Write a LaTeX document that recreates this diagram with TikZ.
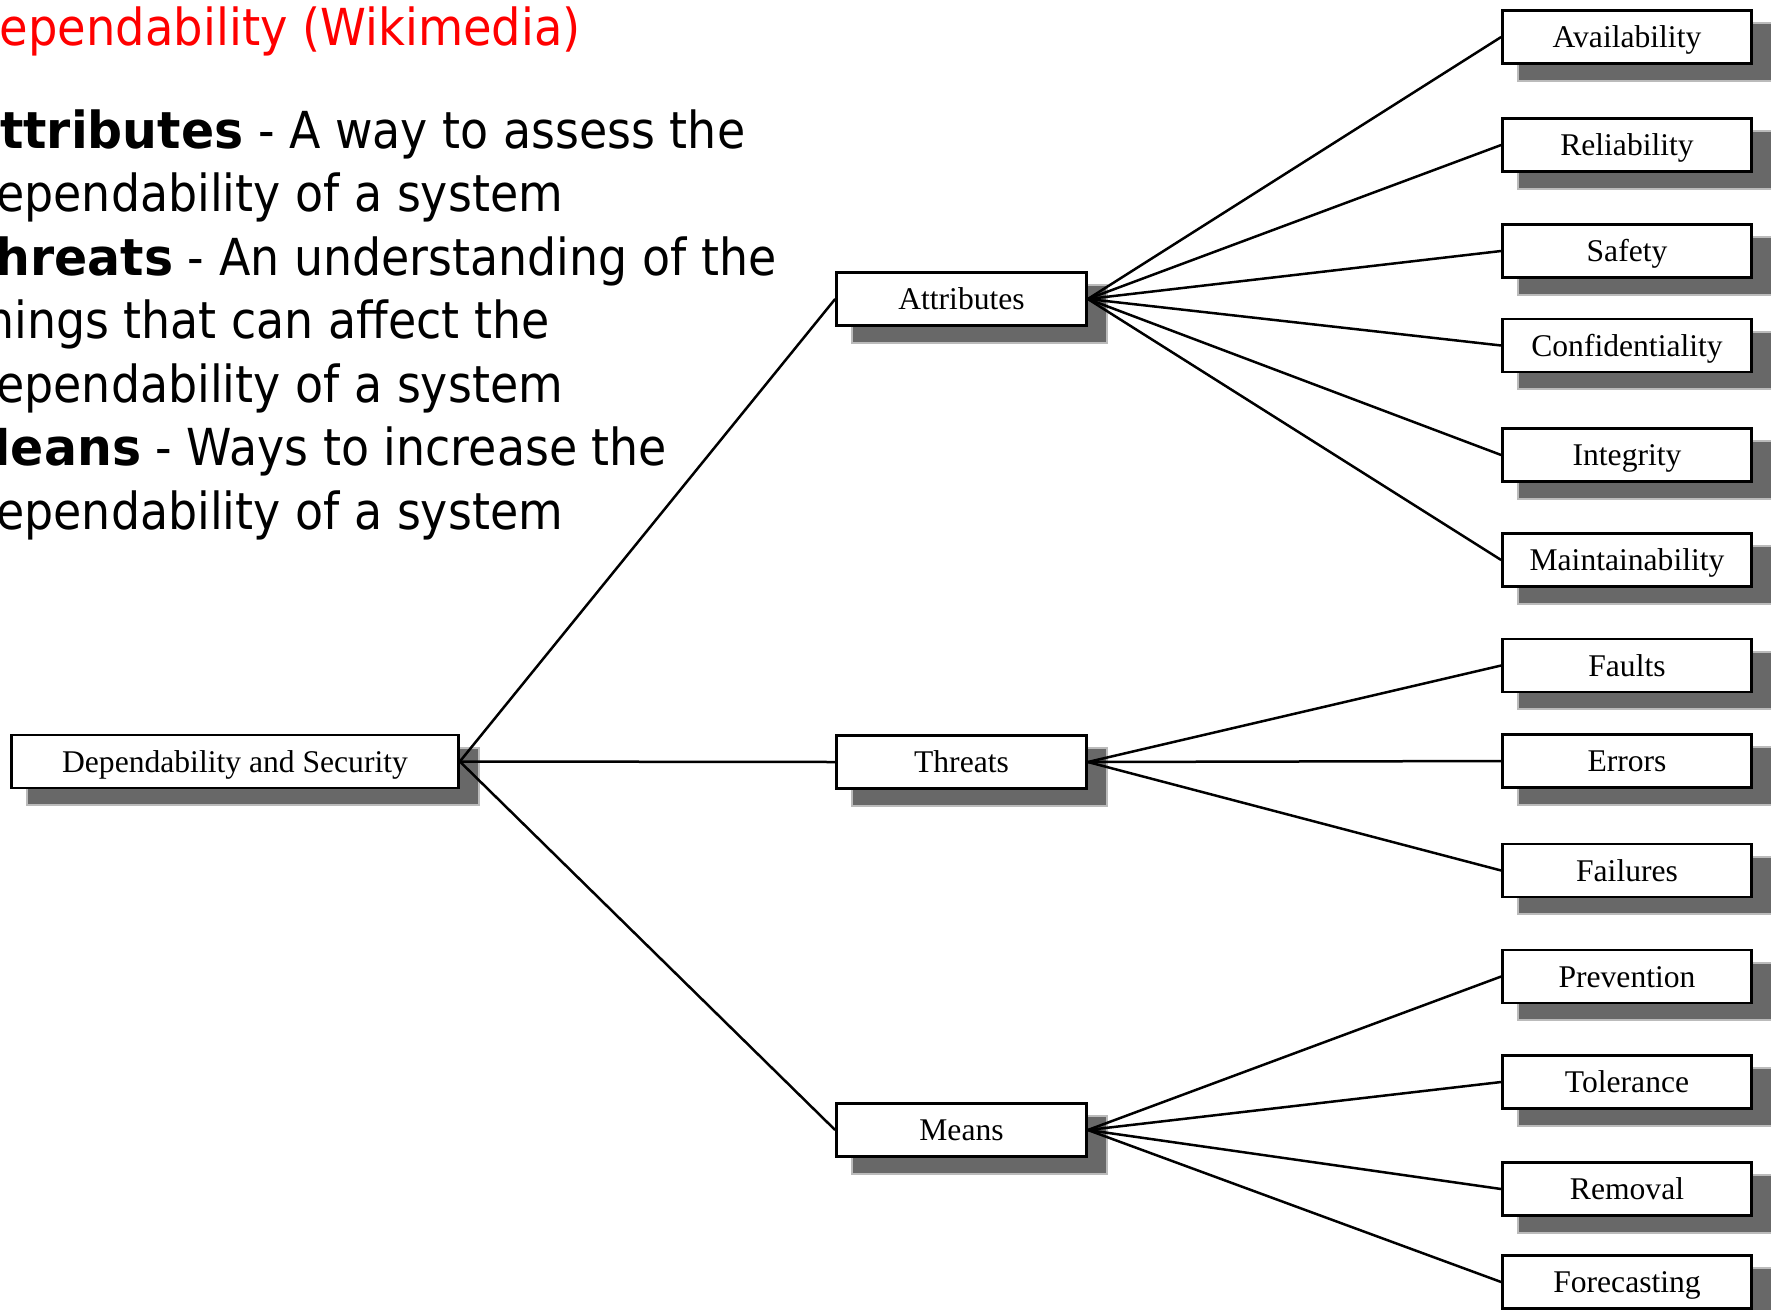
\documentclass[tikz,border=0pt]{standalone}
\usepackage{fontspec}
\setmainfont{Liberation Serif}
\newfontfamily\tah[FakeStretch=0.90]{DejaVu Sans}
\newfontfamily\tahbold[FakeStretch=0.96]{DejaVu Sans Bold}
\newfontfamily\tahhead[FakeStretch=0.91]{DejaVu Sans}

\pgfdeclarelayer{shade}
\pgfdeclarelayer{wires}
\pgfsetlayers{shade,wires,main}

\definecolor{shadowgray}{RGB}{104,104,104}
\definecolor{slidered}{RGB}{255,0,0}

\tikzset{
  box/.style={draw=black, line width=2.7pt, fill=white, inner sep=0pt,
    minimum height=53pt, text height=21pt, text depth=0pt,
    font=\fontsize{31.6}{36}\selectfont},
  leaf/.style={box, minimum width=249pt},
  mid/.style={box, minimum width=250pt},
  wire/.style={line width=2.5pt, black},
  slide/.style={anchor=base west, inner sep=0pt,
    font=\tah\fontsize{51}{63.5}\selectfont},
}

% bold lead word of a bullet line
\newcommand\lead[1]{{\tahbold #1}}

% soft grey drop shadow behind a named box
\newcommand\dropshade[1]{%
  \fill[shadowgray] ([shift={(18,15)}]#1.south west) rectangle ([shift={(18,15)}]#1.north east);
  \draw[shadowgray, opacity=0.45, line width=4pt]
    ([shift={(18,15)}]#1.south west) rectangle ([shift={(18,15)}]#1.north east);
}

\begin{document}
\begin{tikzpicture}[x=1pt, y=-1pt]
\useasboundingbox (0,0) rectangle (1771,1309);
\clip (0,0) rectangle (1771,1309);

% slide text
\node[slide, text=slidered, font=\tahhead\fontsize{51}{63.5}\selectfont] (title) at (-36,45) {Dependability (Wikimedia)};
\node[slide] (l1) at (-38,148)   {\lead{Attributes} - A way to assess the};
\node[slide] (l2) at (-33,211.5) {dependability of a system};
\node[slide] (l3) at (-38,275)   {\lead{Threats} - An understanding of the};
\node[slide] (l4) at (-33,338.5) {things that can affect the};
\node[slide] (l5) at (-33,402)   {dependability of a system};
\node[slide] (l6) at (-38,465.5) {\lead{Means} - Ways to increase the};
\node[slide] (l7) at (-33,529)   {dependability of a system};

% tree boxes
\node[box, minimum width=447pt] (root) at (235,761.5) {Dependability and Security};

\node[mid] (attr) at (961.5,299)  {Attributes};
\node[mid] (thr)  at (961.5,762)  {Threats};
\node[mid] (mea)  at (961.5,1130) {Means};

\node[leaf] (av)  at (1627,37)    {Availability};
\node[leaf] (rel) at (1627,145)   {Reliability};
\node[leaf] (saf) at (1627,251)   {Safety};
\node[leaf] (con) at (1627,345.5) {Confidentiality};
\node[leaf] (int) at (1627,455)   {Integrity};
\node[leaf] (mai) at (1627,560)   {Maintainability};

\node[leaf] (fau) at (1627,665.5) {Faults};
\node[leaf] (err) at (1627,761)   {Errors};
\node[leaf] (fai) at (1627,870.5) {Failures};

\node[leaf] (pre) at (1627,976.5) {Prevention};
\node[leaf] (tol) at (1627,1082)  {Tolerance};
\node[leaf] (rem) at (1627,1189)  {Removal};
\node[leaf] (for) at (1627,1282)  {Forecasting};

% shadows
\begin{pgfonlayer}{shade}
\foreach \n in {root,attr,thr,mea,av,rel,saf,con,int,mai,fau,err,fai,pre,tol,rem,for}
  {\dropshade{\n}}
\end{pgfonlayer}

% connectors
\begin{pgfonlayer}{wires}
\foreach \m in {attr,thr,mea}
  \draw[wire] (root.east) -- (\m.west);
\foreach \l in {av,rel,saf,con,int,mai}
  \draw[wire] (attr.east) -- (\l.west);
\foreach \l in {fau,err,fai}
  \draw[wire] (thr.east) -- (\l.west);
\foreach \l in {pre,tol,rem,for}
  \draw[wire] (mea.east) -- (\l.west);
\end{pgfonlayer}
\end{tikzpicture}
\end{document}
